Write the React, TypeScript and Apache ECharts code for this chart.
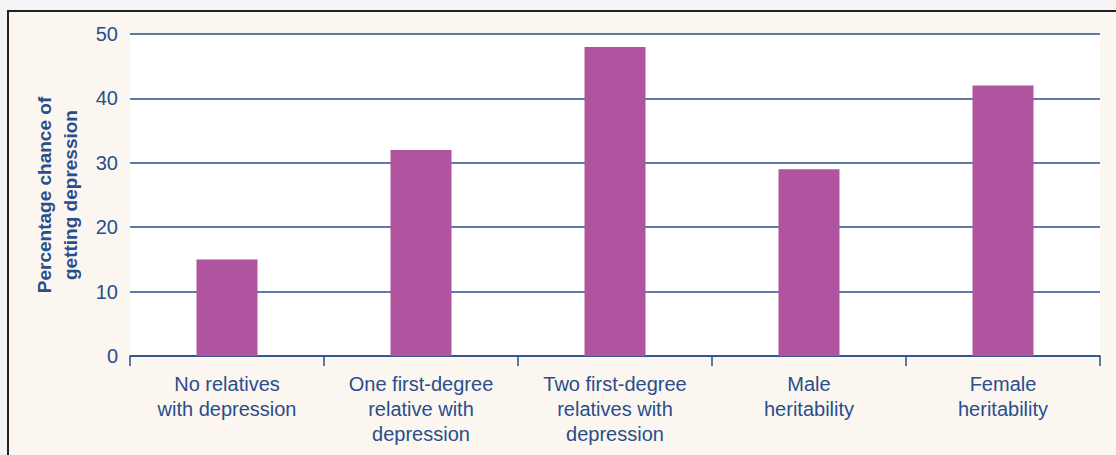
import React, { useEffect, useRef } from "react";
import * as echarts from "echarts";

const categories = [
  "No relatives\nwith depression",
  "One first-degree\nrelative with\ndepression",
  "Two first-degree\nrelatives with\ndepression",
  "Male\nheritability",
  "Female\nheritability",
];
const values = [15, 32, 48, 29, 42];
const yTicks = { min: 0, max: 50, interval: 10 };
const yTitle = "Percentage chance of\ngetting depression";

const BLUE = "#2a4d8c";
const BAR = "#b0549f";
const CREAM = "#fbf7f0";
const FONT = "Liberation Sans, Arial, sans-serif";

export default function App() {
  const ref = useRef<HTMLDivElement>(null);
  useEffect(() => {
    const chart = echarts.init(ref.current!, null, { renderer: "svg" });
    chart.setOption({
      animation: false,
      backgroundColor: "#f4f4f4",
      graphic: [
        { type: "rect", z: -10, shape: { x: 7, y: 10, width: 1116, height: 460 }, style: { fill: "#222" } },
        { type: "rect", z: -9, shape: { x: 9, y: 12, width: 1116, height: 460 }, style: { fill: CREAM } },
      ],
      grid: {
        left: 130,
        right: 16,
        top: 34,
        bottom: 99,
        show: true,
        backgroundColor: "#ffffff",
        borderWidth: 0,
        containLabel: false,
        outerBoundsMode: "none",
      },
      xAxis: {
        type: "category",
        data: categories,
        axisLine: { show: true, lineStyle: { color: BLUE, width: 1.5 } },
        axisTick: { show: true, length: 10, alignWithLabel: false, lineStyle: { color: BLUE, width: 1.5 } },
        axisLabel: {
          color: BLUE,
          fontFamily: FONT,
          fontSize: 20,
          lineHeight: 25,
          margin: 15,
          interval: 0,
        },
      },
      yAxis: {
        type: "value",
        min: yTicks.min,
        max: yTicks.max,
        interval: yTicks.interval,
        axisLine: { show: false },
        axisTick: { show: false },
        splitLine: { show: true, lineStyle: { color: BLUE, width: 1.5 } },
        axisLabel: {
          color: BLUE,
          fontFamily: FONT,
          fontSize: 20,
          margin: 12,
        },
        name: yTitle,
        nameLocation: "middle",
        nameGap: 47,
        nameRotate: 90,
        nameTextStyle: {
          color: BLUE,
          fontFamily: FONT,
          fontSize: 19,
          fontWeight: "bold",
          lineHeight: 26,
        },
      },
      series: [
        {
          type: "bar",
          data: values,
          barWidth: 61,
          itemStyle: { color: BAR },
        },
      ],
    });
    return () => chart.dispose();
  }, []);
  return (
    <div
      ref={ref}
      style={{ position: "fixed", left: 0, top: 0, width: 1116, height: 455 }}
    />
  );
}
